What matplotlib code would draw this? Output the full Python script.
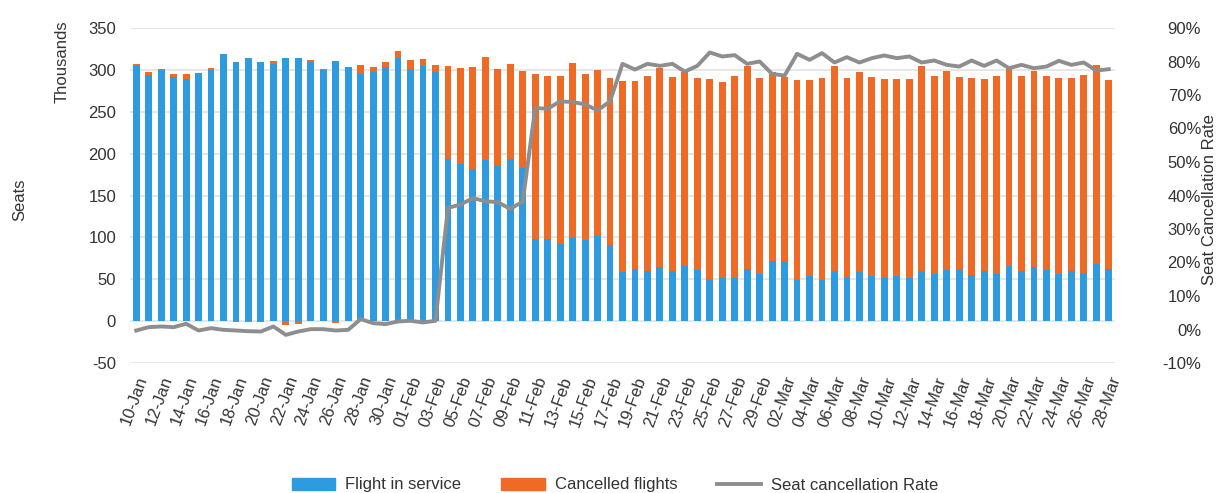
import numpy as np
import pandas as pd
import matplotlib
matplotlib.use('Agg')
import matplotlib.pyplot as plt
from matplotlib.patches import Patch
from matplotlib.lines import Line2D
from matplotlib.ticker import FuncFormatter

plt.rcParams['font.family'] = ['Liberation Sans', 'DejaVu Sans']
plt.rcParams['axes.unicode_minus'] = False

dates = pd.date_range('2020-01-10', '2020-03-28', freq='D')
date_labels = [d.strftime('%d-%b') for d in dates]

# Seats (thousands)
in_service = [304.9, 294.1, 299.3, 291.4, 289.0, 296.2, 299.3, 318.4, 309.7, 314.1,
              309.3, 306.9, 314.5, 314.1, 309.3, 299.3, 310.1, 302.9, 294.9, 296.9,
              302.9, 314.1, 300.9, 304.9, 296.9,
              193.5, 188.0, 181.6, 192.7, 185.6, 193.9, 182.8, 98.0, 98.0, 92.5,
              98.8, 96.5, 102.0, 90.5,
              58.3, 62.6, 59.5, 64.2, 59.5, 66.2, 61.5, 48.7, 51.9, 51.9, 62.3, 56.7,
              71.4, 70.2, 49.5, 53.5, 49.5, 60.3, 52.7, 59.0, 53.5, 51.1, 53.5, 51.9,
              60.3, 56.3, 61.5, 61.1, 55.5, 59.9, 56.3, 66.2, 60.3, 64.2, 61.5, 56.3,
              59.9, 57.9, 68.2, 62.6]
cancelled = [2.6, 3.2, 2.0, 3.1, 5.5, 0.0, 2.8, 0.0, -1.5, -1.5,
             -1.5, 3.6, -5.0, -3.0, 2.8, 1.6, -2.0, 0.0, 10.7, 7.1,
             6.4, 8.7, 10.4, 8.0, 8.7,
             111.5, 114.0, 121.4, 122.3, 115.4, 113.0, 115.3, 197.0, 194.5, 200.0,
             209.2, 198.5, 197.3, 199.7,
             227.9, 223.6, 233.5, 237.5, 231.4, 230.8, 228.7, 240.3, 234.1, 240.2,
             242.6, 233.5,
             225.9, 221.2, 238.7, 233.9, 240.7, 244.6, 237.5, 238.7, 237.4, 237.9,
             235.5, 237.1, 244.6, 235.8, 236.6, 230.3, 234.7, 229.1, 235.8, 234.8,
             231.8, 234.7, 230.6, 233.9, 230.3, 235.4, 237.1, 225.6]
# Seat cancellation rate (%)
cancel_rate = [-0.3, 0.7, 0.9, 0.7, 1.7, -0.3, 0.4, -0.1, -0.3, -0.5,
               -0.6, 0.9, -1.6, -0.6, 0.1, 0.1, -0.3, -0.1, 3.1, 1.9,
               1.6, 2.4, 2.6, 2.1, 2.6,
               36.3, 37.3, 39.2, 38.3, 38.0, 36.0, 38.2, 66.1, 65.9, 68.1,
               67.9, 67.2, 65.4, 68.1,
               79.3, 77.6, 79.3, 78.7, 79.3, 77.0, 78.7, 82.7, 81.5, 81.9, 79.3, 80.0,
               76.3, 75.8, 82.3, 80.5, 82.5, 79.7, 81.3, 79.7, 81.0, 81.8, 81.0, 81.5,
               79.7, 80.3, 79.0, 78.5, 80.3, 78.7, 80.3, 78.0, 79.0, 78.0, 78.5, 80.2,
               79.0, 79.7, 77.3, 77.7]

left_ticks = [-50, 0, 50, 100, 150, 200, 250, 300, 350]
right_ticks = [-10, 0, 10, 20, 30, 40, 50, 60, 70, 80, 90]

BLUE = '#2E9BE0'
ORANGE = '#EE6A25'
GRAY = '#8E8E8E'
TXT = '#333333'

svc = np.array(in_service)
cnc = np.array(cancelled)
x = np.arange(len(svc))

fig = plt.figure(figsize=(12.18, 4.93), dpi=100)
ax = fig.add_axes([130/1218, 1 - 363/493, (1115-130)/1218, (363-28)/493])

w = 0.55
ax.bar(x, svc, width=w, color=BLUE, zorder=2)
ax.bar(x, cnc, width=w, bottom=np.where(cnc >= 0, svc, 0), color=ORANGE, zorder=2)

ax.set_xlim(-0.5, len(x) - 0.5)
ax.set_ylim(-50, 350)
ax.set_yticks(left_ticks)
ax.grid(axis='y', color='#E3E3E3', linewidth=1.2, zorder=0)
ax.set_axisbelow(True)
for s in ax.spines.values():
    s.set_visible(False)
ax.tick_params(axis='y', length=0, pad=10, labelsize=12, labelcolor=TXT)
ax.set_xticks(x[::2])
ax.set_xticklabels(date_labels[::2], rotation=70, ha='right', rotation_mode='anchor',
                   fontsize=12, color=TXT)
ax.tick_params(axis='x', length=0, pad=8)

ax2 = ax.twinx()
ax2.plot(x, cancel_rate, color=GRAY, linewidth=2.8, zorder=3)
ax2.set_ylim(-10, 90)
ax2.set_yticks(right_ticks)
ax2.yaxis.set_major_formatter(FuncFormatter(lambda v, p: f'{v:.0f}%'))
for s in ax2.spines.values():
    s.set_visible(False)
ax2.tick_params(axis='y', length=0, pad=62, labelsize=12, labelcolor=TXT)
plt.setp(ax2.get_yticklabels(), ha='right')

fig.text(20/1218, 1 - 200/493, 'Seats', rotation=90, ha='center', va='center',
         fontsize=12, color=TXT)
fig.text(62/1218, 1 - 62/493, 'Thousands', rotation=90, ha='center', va='center',
         fontsize=12, color=TXT)
fig.text(1209/1218, 1 - 200/493, 'Seat Cancellation Rate', rotation=90, ha='center',
         va='center', fontsize=12, color=TXT)

handles = [Patch(color=BLUE), Patch(color=ORANGE), Line2D([], [], color=GRAY, linewidth=2.8)]
labels = ['Flight in service', 'Cancelled flights', 'Seat cancellation Rate']
fig.legend(handles, labels, loc='center', bbox_to_anchor=(0.505, 1 - 485/493), ncol=3,
           frameon=False, fontsize=12, handlelength=2.6, handleheight=0.7,
           columnspacing=2.4, handletextpad=0.6, labelcolor=TXT)

fig.savefig('out.png', dpi=100)
